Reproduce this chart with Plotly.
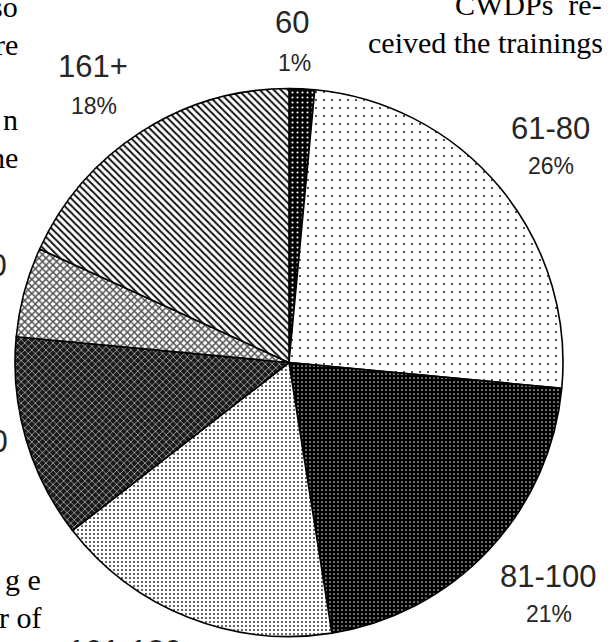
import plotly.graph_objects as go

# ---- data ----
categories = ["60", "61-80", "81-100", "101-120", "121-140", "141-160", "161+"]
shares = [1.5, 25, 21, 17, 12, 5.3, 18.2]
pct_labels = ["1%", "26%", "21%", "17%", "12%", "5%", "18%"]

# ---- styling (kept apart from data) ----
W, H = 612, 642
pat_shape = [".", ".", ".", ".", "x", "x", "\\"]
pat_bg = ["#000000", "#ffffff", "#000000", "#ffffff", "#1a1a1a", "#ffffff", "#ffffff"]
pat_fg = ["#ffffff", "#000000", "#d0d0d0", "#333333", "#a8a8a8", "#555555", "#111111"]
pat_size = [5, 8, 4, 4, 5, 5, 5]
pat_solid = [0.15, 0.04, 0.15, 0.2, 0.3, 0.5, 0.4]

# label anchor points in pixels (name line, percent line), and x-anchor
name_pos = [(292, 22), (550, 128), (548, 576), (125, 651), (10, 441), (9, 265), (93, 67)]
pct_pos = [(294, 63), (551, 166), (549, 614), (125, 691), (-50, 480), (-50, 305), (94, 106)]
name_anchor = ["center", "center", "center", "center", "right", "right", "center"]


def px(x):
    return x / W


def py(y):
    return 1 - y / H


fig = go.Figure(
    go.Pie(
        labels=categories,
        values=shares,
        sort=False,
        direction="clockwise",
        rotation=0,
        textinfo="none",
        hoverinfo="label+percent",
        showlegend=False,
        marker=dict(
            colors=pat_bg,
            line=dict(color="#000000", width=1.6),
            pattern=dict(
                shape=pat_shape,
                bgcolor=pat_bg,
                fgcolor=pat_fg,
                size=pat_size,
                solidity=pat_solid,
                fillmode="replace",
            ),
        ),
        domain=dict(x=[px(15), px(563)], y=[py(637), py(88)]),
    )
)

annotations = []
for cat, pct, (nx, ny), (qx, qy), anc in zip(categories, pct_labels, name_pos, pct_pos, name_anchor):
    annotations.append(dict(x=px(nx), y=py(ny), xref="paper", yref="paper", text=cat,
                            showarrow=False, xanchor=anc, yanchor="middle",
                            font=dict(family="Liberation Sans, Arial, sans-serif", size=31, color="#262626")))
    annotations.append(dict(x=px(qx), y=py(qy), xref="paper", yref="paper", text=pct,
                            showarrow=False, xanchor="center", yanchor="middle",
                            font=dict(family="Liberation Sans, Arial, sans-serif", size=23, color="#262626")))

# surrounding page text fragments (serif body text)
serif = dict(family="Liberation Serif, Times New Roman, serif", size=30, color="#000000")
page_text = [
    ("so", 20, 17, "right"),
    ("re", 20, 55, "right"),
    (".", 4, 92, "right"),
    ("n", 20, 130, "right"),
    ("he", 20, 168, "right"),
    ("g e", 43, 590, "right"),
    ("r of", 43, 628, "right"),
    ("CWDPs  re-", 604, 15, "right"),
    ("ceived the trainings", 605, 53, "right"),
]
for t, x, y, anc in page_text:
    annotations.append(dict(x=px(x), y=py(y), xref="paper", yref="paper", text=t,
                            showarrow=False, xanchor=anc, yanchor="bottom", yshift=-8,
                            font=serif))

fig.update_layout(
    width=W,
    height=H,
    margin=dict(l=0, r=0, t=0, b=0),
    paper_bgcolor="#ffffff",
    plot_bgcolor="#ffffff",
    annotations=annotations,
)

fig.write_html(
    "out.html",
    config={"displayModeBar": False},
    post_script="document.body.style.margin='0px';document.body.style.overflow='hidden';",
)
